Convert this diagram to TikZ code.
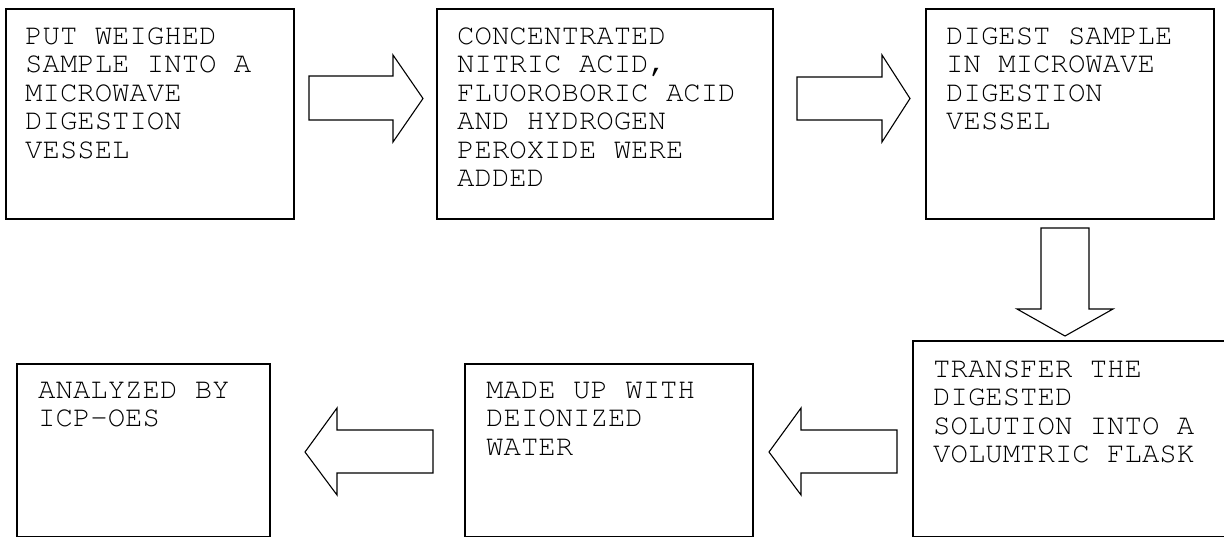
\documentclass[tikz,border=0pt]{standalone}
\usepackage[T1]{fontenc}
\begin{document}
\begin{tikzpicture}[x=1pt,y=-1pt,
  box/.style={draw, line width=1.6pt, inner sep=0pt, outer sep=0pt, anchor=north west},
  lbl/.style={anchor=north west, inner sep=0pt, align=left,
    font=\fontfamily{pcr}\fontsize{29}{28.5}\selectfont},
  blockarrow/.style={draw, line width=1.1pt, fill=white, line join=miter}]
\useasboundingbox (0,0) rectangle (1224,538);
\fill[white] (0,0) rectangle (1224,538);
% boxes
\node[box, minimum width=288pt, minimum height=210pt] (b1) at (6,9) {};
\node[box, minimum width=336pt, minimum height=210pt] (b2) at (437,9) {};
\node[box, minimum width=288pt, minimum height=210pt] (b3) at (926,9) {};
\node[box, minimum width=320pt, minimum height=195.5pt] (b4) at (913,341) {};
\node[box, minimum width=288pt, minimum height=172.5pt] (b5) at (465,364) {};
\node[box, minimum width=253pt, minimum height=172.5pt] (b6) at (17,364) {};
% texts
\node[lbl] (t1) at ([xshift=19pt,yshift=-18pt]b1.north west) {PUT WEIGHED\\SAMPLE INTO A\\MICROWAVE\\DIGESTION\\VESSEL};
\node[lbl] (t2) at ([xshift=20pt,yshift=-18pt]b2.north west) {CONCENTRATED\\NITRIC ACID,\\FLUOROBORIC ACID\\AND HYDROGEN\\PEROXIDE WERE\\ADDED};
\node[lbl] (t3) at ([xshift=20pt,yshift=-18pt]b3.north west) {DIGEST SAMPLE\\IN MICROWAVE\\DIGESTION\\VESSEL};
\node[lbl] (t4) at ([xshift=20pt,yshift=-19pt]b4.north west) {TRANSFER THE\\DIGESTED\\SOLUTION INTO A\\VOLUMTRIC FLASK};
\node[lbl] (t5) at ([xshift=21pt,yshift=-18pt]b5.north west) {MADE UP WITH\\DEIONIZED\\WATER};
\node[lbl] (t6) at ([xshift=21pt,yshift=-18pt]b6.north west) {ANALYZED BY\\ICP-OES};
% block arrows
\draw[blockarrow] (309,76) -- (393,76) -- (393,55) -- (423,98.5) -- (393,142) -- (393,120) -- (309,120) -- cycle;
\draw[blockarrow] (797,77) -- (882,77) -- (882,55) -- (910,98.5) -- (882,142) -- (882,120) -- (797,120) -- cycle;
\draw[blockarrow] (1041,228) -- (1041,309) -- (1017,309) -- (1065,336) -- (1113,309) -- (1089,309) -- (1089,228) -- cycle;
\draw[blockarrow] (897,430) -- (801,430) -- (801,408) -- (769,452) -- (801,495) -- (801,473) -- (897,473) -- cycle;
\draw[blockarrow] (433,430) -- (337,430) -- (337,408) -- (305,452) -- (337,495) -- (337,473) -- (433,473) -- cycle;
\end{tikzpicture}
\end{document}
